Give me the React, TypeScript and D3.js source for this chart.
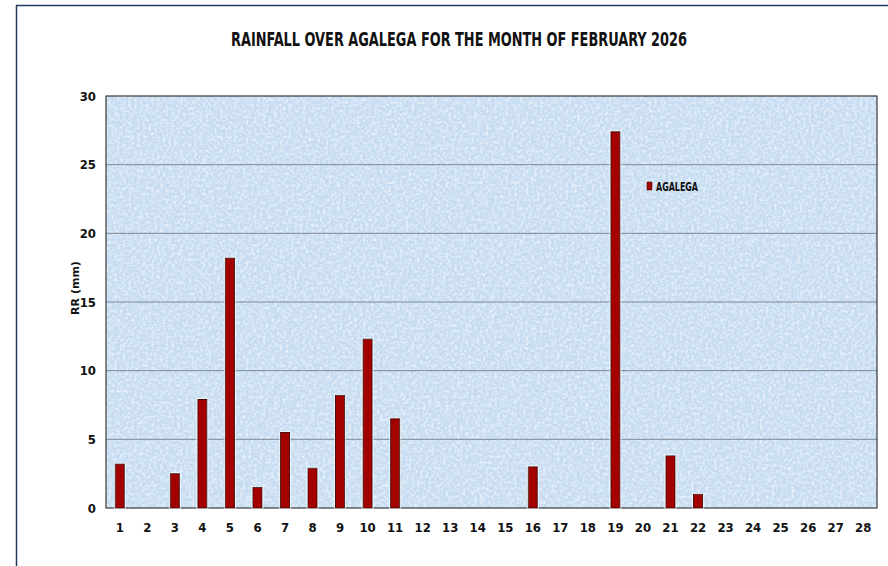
import { useEffect, useRef } from 'react';
import { select, scaleBand, scaleLinear, axisBottom, axisLeft } from 'd3';

const days = [
  '1', '2', '3', '4', '5', '6', '7', '8', '9', '10', '11', '12', '13', '14',
  '15', '16', '17', '18', '19', '20', '21', '22', '23', '24', '25', '26', '27', '28',
];
const rainfall = [
  3.2, 0, 2.5, 7.9, 18.2, 1.5, 5.5, 2.9, 8.2, 12.3, 6.5, 0, 0, 0,
  0, 3.0, 0, 0, 27.4, 0, 3.8, 1.0, 0, 0, 0, 0, 0, 0,
];
const yTicks = [0, 5, 10, 15, 20, 25, 30];
const seriesName = 'AGALEGA';
const title = 'RAINFALL OVER AGALEGA FOR THE MONTH OF FEBRUARY 2026';

const W = 888;
const H = 566;
const margin = { top: 96, right: 11, bottom: 58, left: 106 };
const font = "'DejaVu Sans Condensed', 'Liberation Sans Narrow', sans-serif";

const RainChart = () => {
  const svgRef = useRef(null);

  useEffect(() => {
    const svg = select(svgRef.current);
    svg.selectAll('*').remove();

    const innerW = W - margin.left - margin.right;
    const innerH = H - margin.top - margin.bottom;

    const x = scaleBand().domain(days).range([0, innerW]).paddingInner(0.67).paddingOuter(0.335);
    const y = scaleLinear().domain([0, 30]).range([innerH, 0]);

    const defs = svg.append('defs');
    const filter = defs.append('filter').attr('id', 'paper').attr('x', 0).attr('y', 0).attr('width', 1).attr('height', 1);
    filter.append('feTurbulence').attr('type', 'fractalNoise').attr('baseFrequency', 0.35).attr('numOctaves', 2).attr('seed', 4).attr('result', 'noise');
    filter
      .append('feColorMatrix')
      .attr('in', 'noise')
      .attr('type', 'matrix')
      .attr('values', '0 0 0 0 0.95  0 0 0 0 0.97  0 0 0 0 1  0 0 0 -1.6 0.95')
      .attr('result', 'specks');
    filter.append('feComposite').attr('in', 'specks').attr('in2', 'SourceGraphic').attr('operator', 'atop');

    const glow = defs.append('filter').attr('id', 'halo').attr('x', -0.5).attr('y', -0.1).attr('width', 2).attr('height', 1.2);
    glow.append('feMorphology').attr('in', 'SourceAlpha').attr('operator', 'dilate').attr('radius', 1.2).attr('result', 'd');
    glow.append('feFlood').attr('flood-color', '#ffffff').attr('flood-opacity', 0.6);
    glow.append('feComposite').attr('in2', 'd').attr('operator', 'in').attr('result', 'w');
    const merge = glow.append('feMerge');
    merge.append('feMergeNode').attr('in', 'w');
    merge.append('feMergeNode').attr('in', 'SourceGraphic');

    svg.append('rect').attr('width', W).attr('height', H).attr('fill', '#ffffff');

    // outer frame
    svg.append('line').attr('x1', 16).attr('x2', W).attr('y1', 5.5).attr('y2', 5.5).attr('stroke', '#1d3a5e').attr('stroke-width', 1.5);
    svg.append('line').attr('x1', 16.5).attr('x2', 16.5).attr('y1', 5).attr('y2', H).attr('stroke', '#1d3a5e').attr('stroke-width', 1.5);

    svg
      .append('text')
      .attr('x', 459)
      .attr('y', 46)
      .attr('text-anchor', 'middle')
      .attr('font-family', font)
      .attr('font-weight', 'bold')
      .attr('font-size', 20)
      .attr('textLength', 456)
      .attr('lengthAdjust', 'spacingAndGlyphs')
      .attr('fill', '#111')
      .text(title);

    const g = svg.append('g').attr('transform', `translate(${margin.left},${margin.top})`);

    g.append('rect').attr('width', innerW).attr('height', innerH).attr('fill', '#c6dcf1').attr('filter', 'url(#paper)');

    g.selectAll('.grid')
      .data(yTicks.filter((t) => t > 0 && t < 30))
      .join('line')
      .attr('class', 'grid')
      .attr('x1', 0)
      .attr('x2', innerW)
      .attr('y1', (d) => y(d))
      .attr('y2', (d) => y(d))
      .attr('stroke', '#7d8a97')
      .attr('stroke-width', 1);

    g.append('rect').attr('width', innerW).attr('height', innerH).attr('fill', 'none').attr('stroke', '#3a3a3a').attr('stroke-width', 1.2);

    g.selectAll('.bar')
      .data(rainfall.map((v, i) => ({ day: days[i], v })).filter((d) => d.v > 0))
      .join('rect')
      .attr('class', 'bar')
      .attr('x', (d) => x(d.day))
      .attr('y', (d) => y(d.v))
      .attr('width', x.bandwidth())
      .attr('height', (d) => innerH - y(d.v))
      .attr('fill', '#a30000')
      .attr('stroke', '#4a0000')
      .attr('stroke-width', 1)
      .attr('filter', 'url(#halo)');

    const yAxis = g.append('g').call(axisLeft(y).tickValues(yTicks).tickSize(0).tickPadding(10));
    yAxis.select('.domain').remove();
    yAxis.selectAll('text').attr('font-family', font).attr('font-weight', 'bold').attr('font-size', 13).attr('fill', '#111');

    const xAxis = g.append('g').attr('transform', `translate(0,${innerH})`).call(axisBottom(x).tickSize(0).tickPadding(15));
    xAxis.select('.domain').remove();
    xAxis.selectAll('text').attr('font-family', font).attr('font-weight', 'bold').attr('font-size', 13).attr('fill', '#111');

    svg
      .append('text')
      .attr('transform', `translate(79,${288}) rotate(-90)`)
      .attr('text-anchor', 'middle')
      .attr('font-family', "'DejaVu Sans', sans-serif")
      .attr('font-weight', 'bold')
      .attr('font-size', 11)
      .attr('fill', '#111')
      .text('RR (mm)');

    // legend
    const lg = svg.append('g').attr('transform', 'translate(647,182)');
    lg.append('rect').attr('width', 5).attr('height', 8).attr('fill', '#a30000').attr('stroke', '#4a0000').attr('stroke-width', 0.5);
    lg.append('text')
      .attr('x', 9)
      .attr('y', 8.5)
      .attr('font-family', font)
      .attr('font-weight', 'bold')
      .attr('font-size', 12)
      .attr('textLength', 42)
      .attr('lengthAdjust', 'spacingAndGlyphs')
      .attr('fill', '#111')
      .text(seriesName);
  }, []);

  return <svg ref={svgRef} width={W} height={H} style={{ position: 'absolute', left: 0, top: 0 }} />;
};

export default function App() {
  return <RainChart />;
}
